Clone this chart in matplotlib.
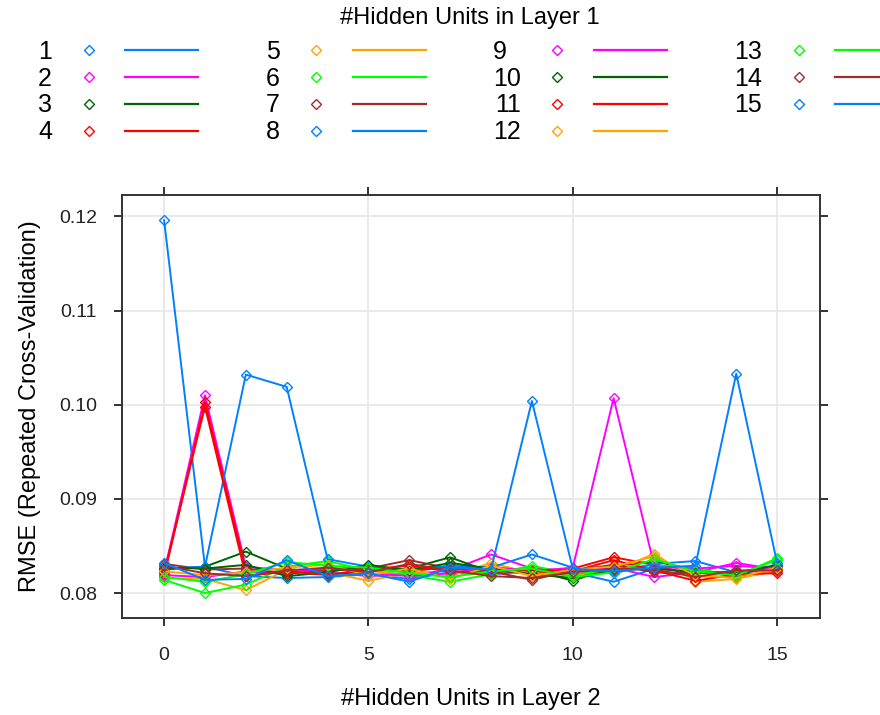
import matplotlib
matplotlib.use('Agg')
import matplotlib.pyplot as plt
from matplotlib.lines import Line2D
from matplotlib.legend_handler import HandlerTuple
import numpy as np

plt.rcParams['font.family'] = ['Liberation Sans', 'DejaVu Sans']

# hidden units in layer 2 (x axis)
layer2 = list(range(16))

# RMSE per #hidden units in layer 1 (one list per series)
rmse = {
    1:  [0.1196, 0.0828, 0.0818, 0.0816, 0.0817, 0.0820, 0.0815, 0.0822, 0.0820, 0.0823, 0.0822, 0.0812, 0.0826, 0.0823, 0.0821, 0.0826],
    2:  [0.0822, 0.1010, 0.0828, 0.0824, 0.0822, 0.0818, 0.0820, 0.0824, 0.0841, 0.0826, 0.0824, 0.0827, 0.0817, 0.0822, 0.0832, 0.0825],
    3:  [0.0825, 0.0828, 0.0844, 0.0826, 0.0820, 0.0823, 0.0826, 0.0838, 0.0822, 0.0825, 0.0813, 0.0828, 0.0834, 0.0824, 0.0820, 0.0828],
    4:  [0.0818, 0.1003, 0.0824, 0.0820, 0.0826, 0.0827, 0.0823, 0.0828, 0.0825, 0.0820, 0.0826, 0.0838, 0.0830, 0.0818, 0.0817, 0.0823],
    5:  [0.0816, 0.0815, 0.0803, 0.0825, 0.0822, 0.0813, 0.0822, 0.0818, 0.0832, 0.0821, 0.0819, 0.0823, 0.0842, 0.0812, 0.0815, 0.0824],
    6:  [0.0814, 0.0800, 0.0809, 0.0828, 0.0834, 0.0824, 0.0819, 0.0812, 0.0820, 0.0829, 0.0820, 0.0825, 0.0830, 0.0826, 0.0818, 0.0837],
    7:  [0.0831, 0.0825, 0.0826, 0.0821, 0.0824, 0.0826, 0.0835, 0.0826, 0.0823, 0.0814, 0.0824, 0.0830, 0.0822, 0.0821, 0.0823, 0.0826],
    8:  [0.0826, 0.0828, 0.1032, 0.1019, 0.0836, 0.0828, 0.0825, 0.0829, 0.0827, 0.0841, 0.0827, 0.0821, 0.0831, 0.0834, 0.0822, 0.0829],
    9:  [0.0819, 0.0817, 0.0823, 0.0822, 0.0826, 0.0821, 0.0818, 0.0821, 0.0828, 0.0823, 0.0827, 0.1007, 0.0828, 0.0826, 0.0829, 0.0826],
    10: [0.0827, 0.0826, 0.0830, 0.0818, 0.0822, 0.0830, 0.0824, 0.0832, 0.0826, 0.0820, 0.0816, 0.0824, 0.0826, 0.0822, 0.0821, 0.0830],
    11: [0.0821, 0.0998, 0.0818, 0.0823, 0.0819, 0.0825, 0.0829, 0.0823, 0.0822, 0.0825, 0.0823, 0.0835, 0.0824, 0.0813, 0.0820, 0.0821],
    12: [0.0823, 0.0819, 0.0822, 0.0827, 0.0830, 0.0819, 0.0826, 0.0815, 0.0829, 0.0818, 0.0825, 0.0828, 0.0839, 0.0819, 0.0816, 0.0827],
    13: [0.0817, 0.0812, 0.0820, 0.0833, 0.0829, 0.0827, 0.0821, 0.0817, 0.0823, 0.0826, 0.0817, 0.0822, 0.0836, 0.0823, 0.0819, 0.0835],
    14: [0.0829, 0.0821, 0.0818, 0.0824, 0.0827, 0.0822, 0.0831, 0.0824, 0.0818, 0.0816, 0.0822, 0.0826, 0.0825, 0.0817, 0.0824, 0.0824],
    15: [0.0832, 0.0814, 0.0815, 0.0835, 0.0818, 0.0821, 0.0812, 0.0827, 0.0825, 0.1004, 0.0826, 0.0823, 0.0827, 0.0829, 0.1033, 0.0832],
}

# lattice superpose colours
palette = ['#0080ff', '#ff00ff', '#006400', '#ff0000', '#ffa500', '#00ff00', '#a52a2a']

fig = plt.figure(figsize=(8.8, 7.15), dpi=100)
ax = fig.add_axes([122/880, 1-618/715, 698/880, 423/715])

handles = []
for i, (k, vals) in enumerate(rmse.items()):
    col = palette[i % len(palette)]
    ax.plot(layer2, vals, color=col, lw=1.4, marker='D', ms=4.8,
            mfc='none', mec=col, mew=1.0)
    h_m = Line2D([], [], ls='none', marker='D', ms=4.8, mfc='none', mec=col, mew=1.0)
    h_l = Line2D([], [], color=col, lw=1.6)
    handles.append((h_m, h_l))

ax.set_xlim(-1.03, 16.05)
ax.set_ylim(0.07735, 0.12228)
ax.set_xticks([0, 5, 10, 15])
ax.set_yticks([0.08, 0.09, 0.10, 0.11, 0.12])
ax.set_yticklabels(['0.08', '0.09', '0.10', '0.11', '0.12'])
ax.grid(True, color='#e8e8e8', lw=1.3)
ax.set_axisbelow(True)
for s in ax.spines.values():
    s.set_color('#333333')
    s.set_linewidth(1.4)
ax.tick_params(direction='out', length=6, width=1.4, color='#333333',
               top=True, right=True, labeltop=False, labelright=False,
               labelsize=14, pad=12, labelcolor='#222222')
ax.tick_params(axis='x', pad=15)

ax.set_xlabel('#Hidden Units in Layer 2', fontsize=17, labelpad=17)
ax.set_ylabel('RMSE (Repeated Cross-Validation)', fontsize=17, labelpad=13)

# key: label, diamond, line -- four columns like lattice's auto.key
keys = list(rmse.keys())
nrow = 4
labels = []
for i, k in enumerate(keys):
    column = keys[(i // nrow) * nrow:(i // nrow + 1) * nrow]
    lab = str(k)
    # lattice left-justifies the key text; pad short labels with a figure space
    if len(lab) < max(len(str(c)) for c in column):
        lab = lab + '\u2007'
    labels.append(lab)

leg = fig.legend(handles, labels,
                 handler_map={tuple: HandlerTuple(ndivide=None, pad=0)},
                 ncol=4, loc='upper left', bbox_to_anchor=(38/880, 1-40/715),
                 frameon=False, fontsize=18, markerfirst=False,
                 handlelength=5.84, handletextpad=0.0, columnspacing=2.7,
                 labelspacing=0.11, borderpad=0, borderaxespad=0)
fig.text(470/880, 1-18/715, '#Hidden Units in Layer 1', fontsize=17,
         ha='center', va='center')

fig.savefig('out.png', dpi=100)
